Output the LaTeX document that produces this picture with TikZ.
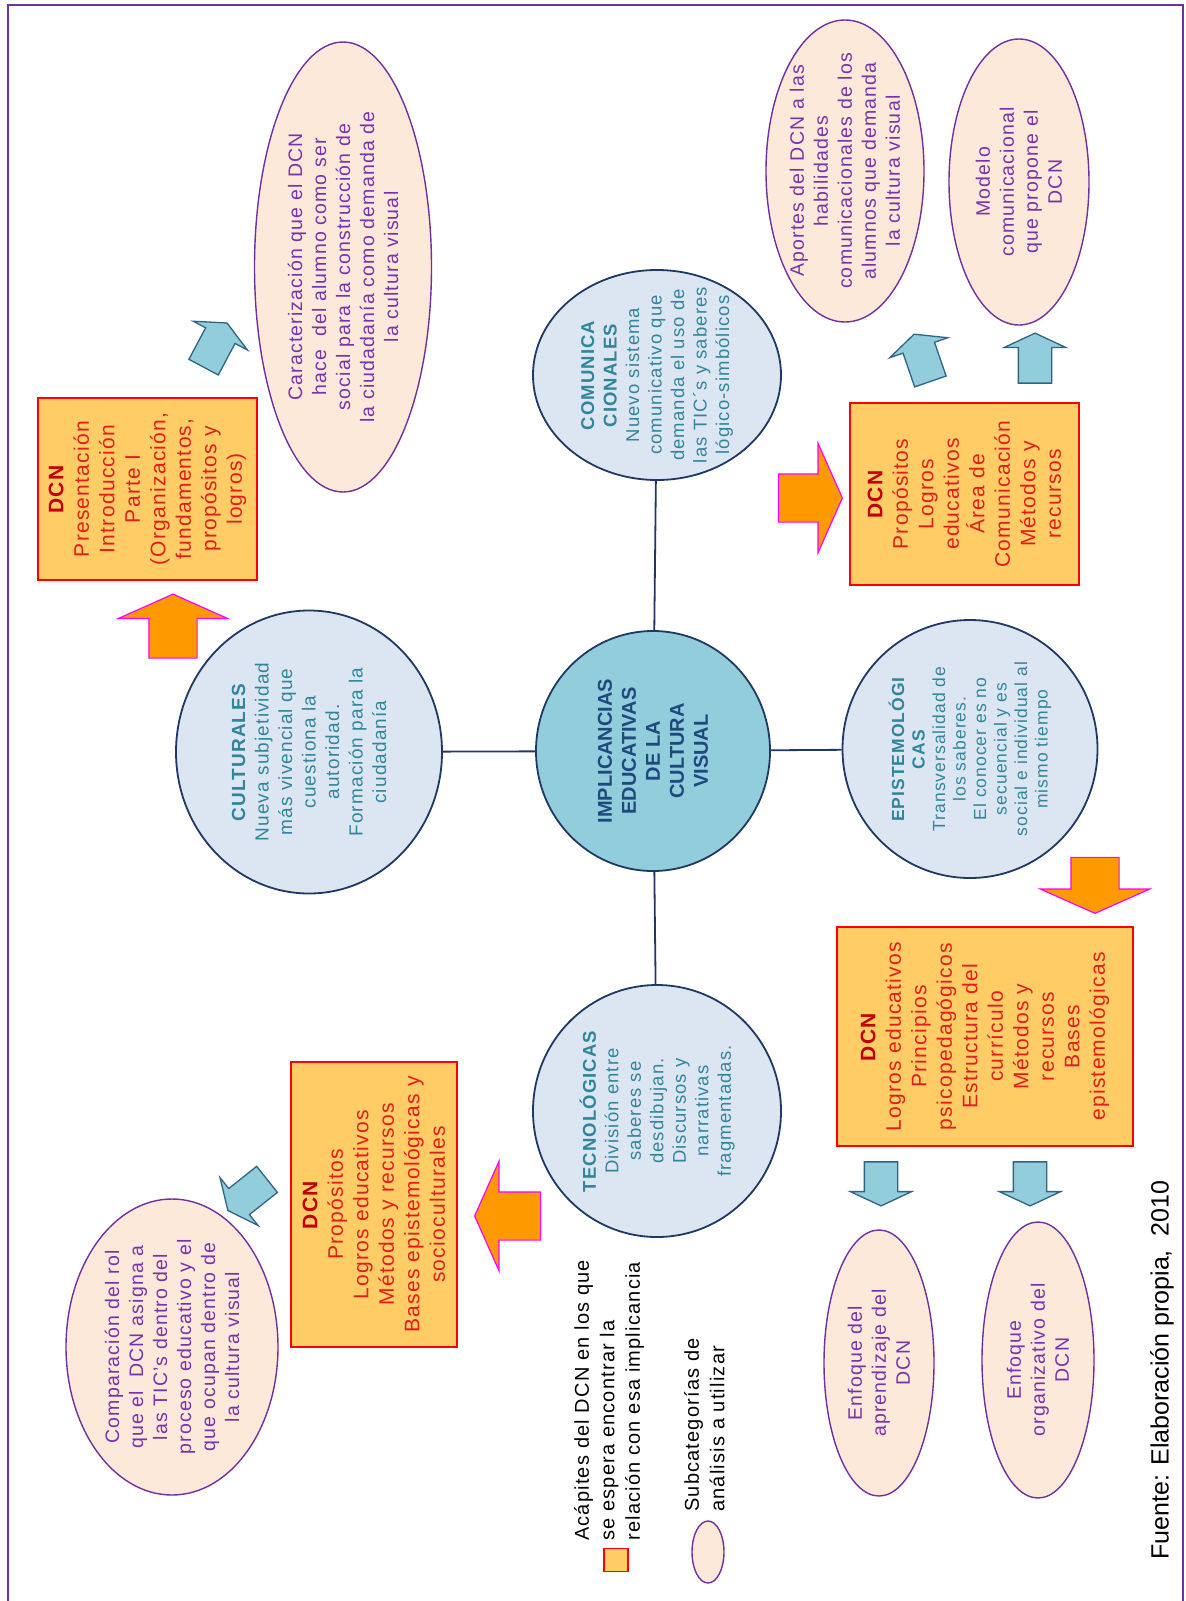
\documentclass[tikz,border=0pt]{standalone}
\usepackage{fontspec}
\setmainfont{Liberation Sans}[LetterSpace=6]
\newfontfamily\plainfont{Liberation Sans}
\usetikzlibrary{positioning,shapes.geometric,shapes.arrows}
\definecolor{frameline}{RGB}{112,48,160}
\definecolor{boxfill}{RGB}{255,204,102}
\definecolor{boxline}{RGB}{255,0,0}
\definecolor{dcntitle}{RGB}{192,0,0}
\definecolor{dcntext}{RGB}{225,30,30}
\definecolor{circfill}{RGB}{220,230,242}
\definecolor{circline}{RGB}{31,56,100}
\definecolor{circtext}{RGB}{49,133,155}
\definecolor{hubfill}{RGB}{146,205,220}
\definecolor{hubtext}{RGB}{31,73,125}
\definecolor{subfill}{RGB}{253,233,217}
\definecolor{subline}{RGB}{112,48,160}
\definecolor{subtext}{RGB}{120,50,170}
\definecolor{orangefill}{RGB}{255,153,0}
\definecolor{orangeline}{RGB}{255,0,255}
\definecolor{bluefill}{RGB}{146,205,220}
\definecolor{blueline}{RGB}{49,100,130}

\begin{document}
\begin{tikzpicture}[x=1pt,y=-1pt] % one unit is one pixel of the page, y runs down
\tikzset{dcnbox/.style={rectangle, rotate=90, draw=boxline, fill=boxfill, line width=1.6pt, inner sep=0pt, align=center, text=dcntext, font=\fontsize{21}{25.5}\selectfont}} % orange boxes of the DCN
\tikzset{subcirc/.style={ellipse, rotate=90, draw=circline, fill=circfill, line width=1.8pt, inner sep=0pt}} % the four implicancias
\tikzset{circlabel/.style={rotate=90, inner sep=0pt, align=center, text=circtext, font=\fontsize{18.5}{22.5}\selectfont}} % their text
\tikzset{hubcirc/.style={subcirc, fill=hubfill, align=center, text=hubtext, font=\plainfont\bfseries\fontsize{20}{24}\selectfont}} % centre of the map
\tikzset{subcat/.style={ellipse, rotate=90, draw=subline, fill=subfill, line width=1.4pt, inner sep=0pt}} % subcategorias
\tikzset{subcatlabel/.style={rotate=90, inner sep=0pt, align=center, text=subtext, font=\fontsize{19.5}{24}\selectfont}} % their text
\tikzset{keytext/.style={rotate=90, anchor=north west, align=left, inner sep=0pt, font=\fontsize{20}{25.5}\selectfont}} % legend lines
\tikzset{hubline/.style={draw=circline, line width=1.8pt}} % spokes from the centre
\tikzset{orangearrow/.style={single arrow, rotate=#1, fill=orangefill, draw=orangeline, line width=1.2pt, inner xsep=0pt, inner ysep=23.5pt, single arrow head extend=30.5pt, single arrow tip angle=132, minimum height=64pt}}
\tikzset{bluearrow/.style={single arrow, rotate=#1, fill=bluefill, draw=blueline, line width=1.3pt, inner xsep=0pt, inner ysep=16pt, single arrow head extend=14pt, single arrow tip angle=130, minimum height=50pt}}

\useasboundingbox (0,0) rectangle (1186,1601);
\draw[frameline, line width=2.4pt] (8,1601) -- (8,5) -- (1183,5) -- (1183,1601);

% centre and the four implicancias
\node[hubcirc, minimum width=240pt, minimum height=234pt] (impl) at (653,751) {IMPLICANCIAS\\EDUCATIVAS\\DE LA\\CULTURA\\VISUAL};
\node[subcirc, minimum width=283pt, minimum height=266pt] (cult) at (309,752) {};
\node[circlabel, font=\fontsize{19}{23.5}\selectfont] (cultT) at (cult) {\textbf{CULTURALES}\\Nueva subjetividad\\más vivencial que\\cuestiona la\\autoridad.\\Formación para la\\ciudadanía};
\node[subcirc, minimum width=210pt, minimum height=248pt] (comun) at (657,375) {};
\node[circlabel] (comunT) at (comun) {\textbf{COMUNICA}\\\textbf{CIONALES}\\Nuevo sistema\\comunicativo que\\demanda el uso de\\las TIC´s y saberes\\lógico-simbólicos};
\node[subcirc, minimum width=258pt, minimum height=255pt] (epist) at (970,749) {};
\node[circlabel, font=\fontsize{17.5}{20.5}\selectfont] (epistT) at (epist) {\textbf{EPISTEMOLÓGI}\\\textbf{CAS}\\Transversalidad de\\los saberes.\\El conocer es no\\secuencial y es\\social e individual al\\mismo tiempo};
\node[subcirc, minimum width=252pt, minimum height=248pt] (tecno) at (657,1111) {};
\node[circlabel] (tecnoT) at (tecno) {\textbf{TECNOLÓGICAS}\\División entre\\saberes se\\desdibujan.\\Discursos y\\narrativas\\fragmentadas.};
\draw[hubline] (impl) -- (cult);
\draw[hubline] (impl) -- (comun);
\draw[hubline] (impl) -- (epist);
\draw[hubline] (impl) -- (tecno);

% DCN boxes
\node[dcnbox, minimum width=182pt, minimum height=219pt] (dcnA) at (147.5,489) {\textcolor{dcntitle}{\textbf{DCN}}\\Presentación\\Introducción\\Parte I\\(Organización,\\fundamentos,\\propósitos y\\logros)};
\node[dcnbox, minimum width=182pt, minimum height=229pt] (dcnB) at (964.5,494) {\textcolor{dcntitle}{\textbf{DCN}}\\Propósitos\\Logros\\educativos\\Área de\\Comunicación\\Métodos y\\recursos};
\node[dcnbox, minimum width=219pt, minimum height=296pt] (dcnC) at (985,1036.5) {\textcolor{dcntitle}{\textbf{DCN}}\\Logros educativos\\Principios\\psicopedagógicos\\Estructura del\\currículo\\Métodos y\\recursos\\Bases\\epistemológicas};
\node[dcnbox, minimum width=285pt, minimum height=166pt] (dcnD) at (374,1204.5) {\textcolor{dcntitle}{\textbf{DCN}}\\Propósitos\\Logros educativos\\Métodos y recursos\\Bases epistemológicas y\\socioculturales};

% subcategorias
\node[subcat, minimum width=450pt, minimum height=177pt] (carac) at (343,267) {};
\node[subcatlabel] (caracT) at (carac) {Caracterización que el DCN\\hace~ del alumno como ser\\social para la construcción de\\la ciudadanía como demanda de\\la cultura visual};
\node[subcat, minimum width=302pt, minimum height=158pt] (aportes) at (845,171) {};
\node[subcatlabel] (aportesT) at (aportes) {Aportes del DCN a las\\habilidades\\comunicacionales de los\\alumnos que demanda\\la cultura visual};
\node[subcat, minimum width=286pt, minimum height=140pt] (modelo) at (1019,182) {};
\node[subcatlabel] (modeloT) at (modelo) {Modelo\\comunicacional\\que propone el\\DCN};
\node[subcat, minimum width=296pt, minimum height=212pt] (compar) at (172,1347) {};
\node[subcatlabel] (comparT) at (compar) {Comparación del rol\\que el~ DCN asigna a\\las TIC’s dentro del\\proceso educativo y el\\que ocupan dentro de\\la cultura visual};
\node[subcat, minimum width=266pt, minimum height=110pt] (enfA) at (879,1363) {};
\node[subcatlabel] (enfAT) at (enfA) {Enfoque del\\aprendizaje del\\DCN};
\node[subcat, minimum width=276pt, minimum height=112pt] (enfB) at (1038,1360) {};
\node[subcatlabel] (enfBT) at (enfB) {Enfoque\\organizativo del\\DCN};

% block arrows
\node[orangearrow=90] (orA) at (173,631.5) {};
\node[orangearrow=0] (orB) at (805,498) {};
\node[orangearrow=270, minimum height=56pt] (orC) at (1095,880) {};
\node[orangearrow=180, minimum height=66pt] (orD) at (513,1216) {};
\node[bluearrow=62] (bluA) at (213.5,348.5) {};
\node[bluearrow=109] (bluB) at (923.5,361.5) {};
\node[bluearrow=90] (bluC) at (1035,362) {};
\node[bluearrow=270, minimum height=44pt] (bluD) at (881,1180) {};
\node[bluearrow=270, minimum height=44pt] (bluE) at (1030,1180) {};
\node[bluearrow=218.5] (bluF) at (250.5,1192.5) {};

% legend
\node[dcnbox, minimum width=23pt, minimum height=24pt] (keybox) at (616,1560) {};
\node[keytext] (keyA) at (574,1541) {Acápites del DCN en los que\\se espera encontrar la\\relación con esa implicancia};
\node[subcat, minimum width=62pt, minimum height=32pt] (keyell) at (708,1552) {};
\node[keytext] (keyB) at (684,1512) {Subcategorías de\\análisis a utilizar};

\node[rotate=90, inner sep=0pt, font=\plainfont\fontsize{25}{30}\selectfont] (fuente) at (1162,1370) {Fuente: Elaboración propia,~ 2010};
\end{tikzpicture}
\end{document}
